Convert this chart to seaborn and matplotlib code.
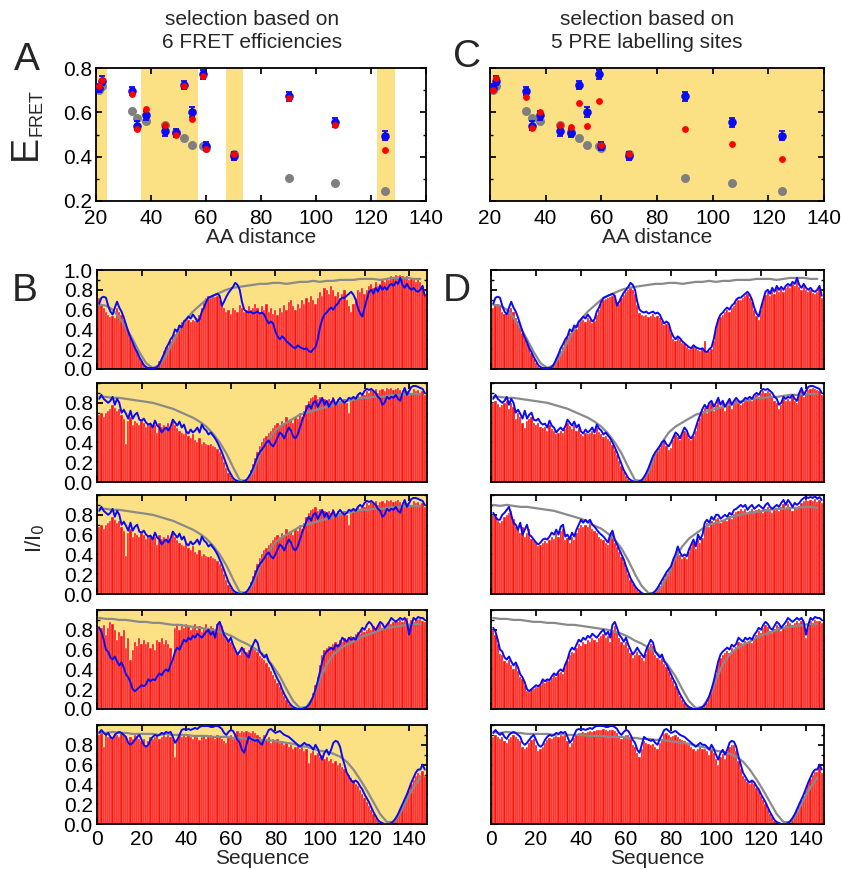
import numpy as np
import matplotlib
matplotlib.use("Agg")
import matplotlib.pyplot as plt
import seaborn as sns
from matplotlib.ticker import MultipleLocator, FixedLocator, FormatStrFormatter

# ---------------- FRET panels (A, C) ----------------
aa_dist = [21, 22, 33, 35, 38, 45, 49, 52, 55, 59, 60, 70, 90, 107, 125]
e_exp = [0.71, 0.742, 0.697, 0.54, 0.586, 0.514, 0.507, 0.723, 0.60, 0.772, 0.447, 0.402, 0.672, 0.555, 0.495]
e_err = [0.02, 0.02, 0.018, 0.02, 0.02, 0.02, 0.02, 0.018, 0.022, 0.02, 0.018, 0.018, 0.02, 0.02, 0.02]
e_rc = [0.70, 0.72, 0.608, 0.574, 0.56, 0.541, 0.51, 0.485, 0.453, 0.447, 0.44, 0.41, 0.306, 0.282, 0.244]
e_sel_fret = [0.717, 0.745, 0.682, 0.527, 0.614, 0.541, 0.499, 0.718, 0.571, 0.765, 0.436, 0.414, 0.664, 0.545, 0.429]
e_sel_pre = [0.70, 0.756, 0.671, 0.53, 0.60, 0.541, 0.535, 0.644, 0.538, 0.65, 0.453, 0.412, 0.526, 0.455, 0.389]
fret_used = [(20, 24.1), (36.4, 57.1), (67.3, 73.3), (122.3, 128.6)]

# ---------------- PRE profiles (B, D) ----------------
res = np.arange(1, 148)
gray_res = np.arange(1, 148, 3)

blue1 = [
    0.66, 0.72, 0.73, 0.72, 0.64, 0.58, 0.55, 0.62, 0.68, 0.62,
    0.58, 0.52, 0.45, 0.38, 0.32, 0.27, 0.21, 0.17, 0.12, 0.08,
    0.04, 0.02, 0.01, 0.01, 0.01, 0.01, 0.02, 0.05, 0.10, 0.15,
    0.21, 0.25, 0.30, 0.33, 0.40, 0.38, 0.44, 0.42, 0.48, 0.50,
    0.53, 0.51, 0.55, 0.52, 0.48, 0.50, 0.58, 0.62, 0.68, 0.72,
    0.73, 0.74, 0.75, 0.76, 0.74, 0.64, 0.68, 0.73, 0.77, 0.80,
    0.83, 0.87, 0.85, 0.80, 0.68, 0.60, 0.58, 0.57, 0.58, 0.56,
    0.57, 0.58, 0.56, 0.57, 0.55, 0.50, 0.46, 0.48, 0.46, 0.38,
    0.33, 0.30, 0.33, 0.31, 0.28, 0.26, 0.24, 0.22, 0.21, 0.24,
    0.22, 0.21, 0.20, 0.21, 0.18, 0.17, 0.20, 0.22, 0.30, 0.42,
    0.50, 0.55, 0.57, 0.60, 0.62, 0.60, 0.64, 0.66, 0.70, 0.72,
    0.72, 0.74, 0.76, 0.78, 0.75, 0.70, 0.62, 0.56, 0.53, 0.62,
    0.70, 0.78, 0.80, 0.76, 0.82, 0.78, 0.84, 0.80, 0.83, 0.80,
    0.84, 0.86, 0.84, 0.88, 0.86, 0.92, 0.85, 0.82, 0.86, 0.82,
    0.80, 0.82, 0.79, 0.78, 0.80, 0.84, 0.74]

blue2 = [
    0.84, 0.88, 0.84, 0.82, 0.80, 0.82, 0.86, 0.78, 0.84, 0.80,
    0.70, 0.73, 0.69, 0.64, 0.72, 0.64, 0.68, 0.70, 0.63, 0.62,
    0.64, 0.60, 0.58, 0.59, 0.55, 0.62, 0.57, 0.55, 0.50, 0.53,
    0.55, 0.52, 0.56, 0.63, 0.60, 0.57, 0.61, 0.55, 0.58, 0.51,
    0.49, 0.53, 0.50, 0.52, 0.55, 0.50, 0.58, 0.54, 0.52, 0.48,
    0.50, 0.47, 0.44, 0.40, 0.35, 0.30, 0.24, 0.18, 0.12, 0.08,
    0.04, 0.02, 0.01, 0.00, 0.00, 0.01, 0.02, 0.05, 0.09, 0.14,
    0.20, 0.26, 0.30, 0.33, 0.36, 0.40, 0.42, 0.38, 0.36, 0.40,
    0.45, 0.50, 0.48, 0.44, 0.50, 0.55, 0.52, 0.46, 0.44, 0.48,
    0.55, 0.62, 0.68, 0.74, 0.78, 0.74, 0.80, 0.82, 0.76, 0.80,
    0.85, 0.78, 0.82, 0.76, 0.80, 0.84, 0.78, 0.82, 0.85, 0.82,
    0.80, 0.82, 0.85, 0.84, 0.86, 0.84, 0.88, 0.90, 0.88, 0.92,
    0.94, 0.93, 0.94, 0.92, 0.90, 0.86, 0.84, 0.78, 0.80, 0.86,
    0.84, 0.86, 0.85, 0.88, 0.84, 0.82, 0.90, 0.95, 0.88, 0.92,
    0.96, 0.97, 0.97, 0.96, 0.95, 0.94, 0.90]

blue3 = [
    0.82, 0.78, 0.75, 0.75, 0.80, 0.82, 0.85, 0.88, 0.80, 0.72,
    0.70, 0.65, 0.72, 0.60, 0.65, 0.70, 0.60, 0.58, 0.55, 0.52,
    0.50, 0.52, 0.55, 0.56, 0.55, 0.58, 0.62, 0.60, 0.65, 0.60,
    0.68, 0.70, 0.58, 0.60, 0.55, 0.62, 0.58, 0.65, 0.70, 0.75,
    0.72, 0.75, 0.72, 0.75, 0.70, 0.68, 0.65, 0.62, 0.60, 0.58,
    0.55, 0.52, 0.60, 0.64, 0.55, 0.50, 0.45, 0.40, 0.35, 0.28,
    0.22, 0.16, 0.12, 0.08, 0.05, 0.03, 0.01, 0.00, 0.00, 0.00,
    0.00, 0.01, 0.03, 0.06, 0.10, 0.14, 0.18, 0.22, 0.25, 0.28,
    0.35, 0.40, 0.48, 0.42, 0.38, 0.40, 0.38, 0.45, 0.50, 0.55,
    0.48, 0.60, 0.55, 0.60, 0.72, 0.75, 0.72, 0.78, 0.75, 0.80,
    0.80, 0.76, 0.78, 0.80, 0.78, 0.82, 0.80, 0.85, 0.86, 0.88,
    0.90, 0.88, 0.90, 0.85, 0.88, 0.90, 0.86, 0.88, 0.90, 0.88,
    0.86, 0.90, 0.92, 0.88, 0.86, 0.88, 0.90, 0.88, 0.92, 0.95,
    0.90, 0.95, 0.92, 0.88, 0.92, 0.90, 0.92, 0.95, 0.97, 0.98,
    0.97, 0.98, 0.97, 0.99, 0.96, 0.98, 0.95]

blue4 = [
    0.82, 0.78, 0.70, 0.60, 0.58, 0.52, 0.50, 0.53, 0.48, 0.44,
    0.47, 0.42, 0.35, 0.32, 0.27, 0.20, 0.18, 0.20, 0.22, 0.24,
    0.23, 0.25, 0.30, 0.28, 0.30, 0.29, 0.33, 0.36, 0.34, 0.38,
    0.40, 0.38, 0.45, 0.50, 0.58, 0.62, 0.60, 0.65, 0.70, 0.68,
    0.72, 0.70, 0.74, 0.72, 0.76, 0.74, 0.72, 0.75, 0.78, 0.80,
    0.75, 0.78, 0.72, 0.85, 0.88, 0.82, 0.75, 0.72, 0.68, 0.72,
    0.65, 0.60, 0.55, 0.58, 0.62, 0.58, 0.55, 0.52, 0.60, 0.65,
    0.70, 0.67, 0.58, 0.55, 0.52, 0.55, 0.48, 0.45, 0.40, 0.35,
    0.30, 0.26, 0.20, 0.15, 0.11, 0.07, 0.04, 0.02, 0.01, 0.00,
    0.00, 0.00, 0.01, 0.02, 0.04, 0.08, 0.13, 0.20, 0.28, 0.38,
    0.48, 0.55, 0.58, 0.60, 0.62, 0.60, 0.65, 0.63, 0.66, 0.72,
    0.70, 0.68, 0.72, 0.70, 0.72, 0.70, 0.75, 0.78, 0.82, 0.80,
    0.85, 0.88, 0.86, 0.82, 0.80, 0.84, 0.88, 0.86, 0.82, 0.85,
    0.88, 0.92, 0.90, 0.88, 0.90, 0.92, 0.90, 0.92, 0.88, 0.75,
    0.85, 0.92, 0.90, 0.93, 0.92, 0.92, 0.90]

blue5 = [
    0.92, 0.95, 0.92, 0.90, 0.92, 0.88, 0.86, 0.90, 0.92, 0.93,
    0.92, 0.90, 0.88, 0.82, 0.80, 0.82, 0.85, 0.88, 0.90, 0.85,
    0.80, 0.78, 0.80, 0.85, 0.88, 0.90, 0.89, 0.90, 0.92, 0.91,
    0.93, 0.92, 0.93, 0.88, 0.82, 0.85, 0.90, 0.95, 0.96, 0.95,
    0.96, 0.95, 0.96, 0.97, 0.96, 0.98, 0.99, 0.99, 0.99, 0.99,
    0.98, 0.98, 0.99, 0.99, 0.98, 0.96, 0.92, 0.90, 0.93, 0.95,
    0.94, 0.90, 0.85, 0.82, 0.75, 0.72, 0.80, 0.88, 0.86, 0.85,
    0.84, 0.85, 0.82, 0.80, 0.86, 0.90, 0.95, 0.96, 0.94, 0.92,
    0.93, 0.94, 0.92, 0.90, 0.89, 0.88, 0.86, 0.84, 0.82, 0.80,
    0.78, 0.80, 0.82, 0.80, 0.80, 0.78, 0.75, 0.80, 0.76, 0.70,
    0.65, 0.72, 0.75, 0.70, 0.75, 0.82, 0.84, 0.83, 0.78, 0.68,
    0.60, 0.52, 0.48, 0.44, 0.42, 0.44, 0.42, 0.38, 0.35, 0.30,
    0.26, 0.22, 0.17, 0.12, 0.08, 0.04, 0.02, 0.01, 0.00, 0.00,
    0.00, 0.01, 0.03, 0.06, 0.10, 0.15, 0.20, 0.25, 0.30, 0.36,
    0.42, 0.47, 0.52, 0.55, 0.55, 0.60, 0.55]

gray1 = [
    0.65, 0.64, 0.60, 0.52, 0.42, 0.30, 0.17, 0.06, 0.01, 0.04,
    0.14, 0.27, 0.40, 0.50, 0.58, 0.64, 0.70, 0.74, 0.77, 0.80,
    0.82, 0.83, 0.84, 0.85, 0.86, 0.86, 0.87, 0.87, 0.86, 0.87,
    0.88, 0.88, 0.89, 0.88, 0.89, 0.89, 0.90, 0.90, 0.90, 0.91,
    0.91, 0.91, 0.90, 0.91, 0.92, 0.92, 0.92, 0.91, 0.91]
gray2 = [
    0.86, 0.86, 0.85, 0.85, 0.84, 0.83, 0.82, 0.81, 0.80, 0.78,
    0.76, 0.74, 0.71, 0.68, 0.65, 0.61, 0.56, 0.49, 0.40, 0.29,
    0.15, 0.02, 0.01, 0.10, 0.28, 0.40, 0.50, 0.56, 0.60, 0.64,
    0.68, 0.70, 0.72, 0.74, 0.76, 0.78, 0.80, 0.82, 0.83, 0.85,
    0.85, 0.86, 0.86, 0.87, 0.88, 0.88, 0.89, 0.89, 0.89]
gray3 = [
    0.90, 0.89, 0.90, 0.89, 0.88, 0.88, 0.87, 0.86, 0.85, 0.84,
    0.82, 0.80, 0.78, 0.76, 0.73, 0.69, 0.66, 0.61, 0.55, 0.46,
    0.34, 0.20, 0.08, 0.01, 0.01, 0.08, 0.21, 0.37, 0.48, 0.56,
    0.61, 0.66, 0.70, 0.72, 0.74, 0.77, 0.79, 0.81, 0.82, 0.83,
    0.84, 0.85, 0.86, 0.86, 0.87, 0.87, 0.88, 0.88, 0.87]
gray4 = [
    0.92, 0.91, 0.91, 0.90, 0.90, 0.89, 0.88, 0.88, 0.87, 0.87,
    0.86, 0.85, 0.85, 0.84, 0.83, 0.82, 0.81, 0.80, 0.78, 0.76,
    0.73, 0.69, 0.66, 0.62, 0.58, 0.52, 0.43, 0.33, 0.20, 0.08,
    0.01, 0.02, 0.12, 0.30, 0.45, 0.55, 0.61, 0.65, 0.68, 0.72,
    0.75, 0.77, 0.80, 0.82, 0.83, 0.84, 0.85, 0.86, 0.86]
gray5 = [
    0.93, 0.92, 0.93, 0.92, 0.92, 0.91, 0.91, 0.91, 0.91, 0.90,
    0.91, 0.90, 0.90, 0.90, 0.89, 0.89, 0.89, 0.88, 0.88, 0.88,
    0.87, 0.87, 0.86, 0.86, 0.85, 0.85, 0.84, 0.83, 0.82, 0.81,
    0.79, 0.78, 0.76, 0.74, 0.73, 0.71, 0.68, 0.63, 0.55, 0.45,
    0.34, 0.22, 0.10, 0.02, 0.02, 0.11, 0.25, 0.37, 0.47]

# ensemble selected on FRET (column B)
fret_bars1 = [
    0.72, 0.65, 0.62, 0.58, 0.55, 0.53, 0.54, 0.52, 0.62, 0.58,
    0.55, 0.50, 0.42, 0.38, 0.32, 0.30, 0.25, 0.18, 0.12, 0.08,
    0.04, 0.02, 0.01, 0.01, 0.01, 0.02, 0.04, 0.08, 0.12, 0.18,
    0.22, 0.22, 0.28, 0.32, 0.35, 0.40, 0.44, 0.47, 0.50, 0.48,
    0.50, 0.47, 0.50, 0.48, 0.52, 0.55, 0.62, 0.68, 0.72, 0.74,
    0.72, 0.75, 0.73, 0.74, 0.70, 0.66, 0.62, 0.58, 0.60, 0.56,
    0.62, 0.60, 0.58, 0.65, 0.62, 0.58, 0.60, 0.64, 0.60, 0.62,
    0.66, 0.62, 0.58, 0.64, 0.60, 0.66, 0.58, 0.62, 0.56, 0.60,
    0.55, 0.62, 0.58, 0.65, 0.60, 0.68, 0.70, 0.64, 0.60, 0.66,
    0.62, 0.70, 0.66, 0.72, 0.68, 0.74, 0.70, 0.66, 0.72, 0.78,
    0.74, 0.82, 0.80, 0.76, 0.84, 0.80, 0.74, 0.78, 0.72, 0.76,
    0.80, 0.70, 0.64, 0.58, 0.66, 0.72, 0.80, 0.78, 0.82, 0.76,
    0.80, 0.84, 0.86, 0.82, 0.88, 0.84, 0.86, 0.90, 0.88, 0.92,
    0.90, 0.94, 0.92, 0.95, 0.94, 0.95, 0.94, 0.92, 0.94, 0.90,
    0.92, 0.90, 0.88, 0.92, 0.88, 0.84, 0.76]
fret_bars2 = [
    0.68, 0.70, 0.66, 0.70, 0.72, 0.74, 0.78, 0.75, 0.72, 0.74,
    0.68, 0.64, 0.38, 0.62, 0.66, 0.58, 0.62, 0.60, 0.58, 0.62,
    0.60, 0.56, 0.60, 0.58, 0.55, 0.58, 0.50, 0.60, 0.56, 0.58,
    0.54, 0.60, 0.56, 0.62, 0.58, 0.55, 0.52, 0.50, 0.48, 0.52,
    0.46, 0.44, 0.48, 0.42, 0.40, 0.44, 0.38, 0.40, 0.38, 0.37,
    0.38, 0.36, 0.35, 0.33, 0.30, 0.26, 0.20, 0.14, 0.09, 0.05,
    0.03, 0.01, 0.00, 0.00, 0.00, 0.01, 0.03, 0.07, 0.12, 0.18,
    0.24, 0.30, 0.36, 0.40, 0.44, 0.46, 0.50, 0.52, 0.55, 0.58,
    0.60, 0.58, 0.62, 0.60, 0.66, 0.62, 0.64, 0.60, 0.66, 0.64,
    0.70, 0.66, 0.72, 0.78, 0.82, 0.85, 0.86, 0.88, 0.84, 0.86,
    0.82, 0.84, 0.80, 0.84, 0.82, 0.86, 0.80, 0.84, 0.82, 0.80,
    0.84, 0.80, 0.70, 0.82, 0.86, 0.84, 0.88, 0.86, 0.90, 0.88,
    0.92, 0.90, 0.93, 0.92, 0.94, 0.90, 0.93, 0.94, 0.92, 0.95,
    0.94, 0.95, 0.93, 0.94, 0.95, 0.93, 0.90, 0.94, 0.92, 0.88,
    0.90, 0.94, 0.92, 0.93, 0.90, 0.92, 0.88]
fret_bars4 = [
    0.84, 0.82, 0.85, 0.75, 0.82, 0.88, 0.86, 0.80, 0.70, 0.78,
    0.74, 0.80, 0.62, 0.72, 0.50, 0.60, 0.68, 0.64, 0.72, 0.66,
    0.70, 0.66, 0.68, 0.62, 0.66, 0.60, 0.70, 0.68, 0.72, 0.66,
    0.70, 0.66, 0.62, 0.52, 0.82, 0.85, 0.80, 0.84, 0.82, 0.86,
    0.84, 0.80, 0.82, 0.86, 0.80, 0.84, 0.78, 0.82, 0.86, 0.80,
    0.84, 0.82, 0.80, 0.86, 0.88, 0.84, 0.76, 0.72, 0.70, 0.68,
    0.64, 0.60, 0.58, 0.55, 0.60, 0.62, 0.58, 0.60, 0.64, 0.62,
    0.60, 0.58, 0.54, 0.52, 0.50, 0.46, 0.42, 0.38, 0.34, 0.30,
    0.26, 0.22, 0.18, 0.13, 0.09, 0.05, 0.03, 0.01, 0.00, 0.00,
    0.00, 0.00, 0.01, 0.03, 0.06, 0.10, 0.16, 0.24, 0.32, 0.44,
    0.55, 0.60, 0.62, 0.64, 0.62, 0.66, 0.68, 0.66, 0.70, 0.68,
    0.72, 0.70, 0.72, 0.74, 0.72, 0.76, 0.78, 0.76, 0.80, 0.78,
    0.80, 0.82, 0.80, 0.84, 0.82, 0.84, 0.86, 0.82, 0.84, 0.86,
    0.88, 0.86, 0.88, 0.90, 0.88, 0.90, 0.88, 0.90, 0.92, 0.86,
    0.90, 0.88, 0.92, 0.90, 0.91, 0.89, 0.88]
fret_bars5 = [
    0.90, 0.92, 0.78, 0.92, 0.88, 0.90, 0.86, 0.92, 0.90, 0.88,
    0.92, 0.90, 0.88, 0.82, 0.88, 0.86, 0.90, 0.88, 0.86, 0.84,
    0.86, 0.80, 0.84, 0.88, 0.86, 0.88, 0.90, 0.86, 0.88, 0.90,
    0.88, 0.90, 0.88, 0.86, 0.68, 0.86, 0.90, 0.88, 0.90, 0.88,
    0.90, 0.88, 0.86, 0.90, 0.88, 0.85, 0.88, 0.90, 0.86, 0.88,
    0.90, 0.88, 0.86, 0.90, 0.88, 0.86, 0.84, 0.82, 0.88, 0.90,
    0.86, 0.92, 0.94, 0.92, 0.94, 0.93, 0.94, 0.93, 0.92, 0.94,
    0.92, 0.90, 0.88, 0.86, 0.90, 0.86, 0.88, 0.82, 0.86, 0.84,
    0.86, 0.82, 0.84, 0.80, 0.82, 0.78, 0.80, 0.76, 0.78, 0.80,
    0.76, 0.78, 0.74, 0.76, 0.62, 0.72, 0.74, 0.70, 0.72, 0.68,
    0.70, 0.66, 0.68, 0.64, 0.66, 0.62, 0.64, 0.60, 0.62, 0.58,
    0.56, 0.52, 0.50, 0.46, 0.44, 0.40, 0.38, 0.34, 0.30, 0.26,
    0.22, 0.18, 0.14, 0.10, 0.06, 0.03, 0.01, 0.00, 0.00, 0.00,
    0.00, 0.01, 0.03, 0.06, 0.10, 0.14, 0.18, 0.24, 0.30, 0.34,
    0.40, 0.44, 0.48, 0.52, 0.50, 0.54, 0.48]

# ensemble selected on PRE (column D)
pre_bars1 = [
    0.62, 0.65, 0.66, 0.64, 0.58, 0.56, 0.55, 0.60, 0.62, 0.58,
    0.52, 0.48, 0.42, 0.36, 0.30, 0.26, 0.22, 0.16, 0.10, 0.06,
    0.03, 0.01, 0.00, 0.00, 0.00, 0.01, 0.03, 0.06, 0.10, 0.15,
    0.18, 0.22, 0.28, 0.32, 0.36, 0.35, 0.42, 0.40, 0.45, 0.48,
    0.50, 0.47, 0.52, 0.50, 0.46, 0.48, 0.55, 0.60, 0.66, 0.70,
    0.71, 0.72, 0.73, 0.74, 0.72, 0.68, 0.66, 0.72, 0.75, 0.78,
    0.80, 0.82, 0.80, 0.76, 0.65, 0.57, 0.55, 0.54, 0.55, 0.53,
    0.54, 0.56, 0.53, 0.54, 0.52, 0.48, 0.44, 0.45, 0.43, 0.36,
    0.30, 0.28, 0.31, 0.29, 0.26, 0.25, 0.22, 0.20, 0.20, 0.22,
    0.21, 0.19, 0.18, 0.20, 0.28, 0.16, 0.18, 0.20, 0.28, 0.40,
    0.48, 0.53, 0.55, 0.58, 0.60, 0.58, 0.62, 0.64, 0.68, 0.70,
    0.70, 0.72, 0.74, 0.76, 0.72, 0.68, 0.60, 0.54, 0.50, 0.60,
    0.68, 0.75, 0.78, 0.74, 0.80, 0.76, 0.82, 0.78, 0.81, 0.78,
    0.82, 0.84, 0.82, 0.86, 0.84, 0.90, 0.83, 0.80, 0.84, 0.80,
    0.78, 0.80, 0.77, 0.76, 0.78, 0.82, 0.72]
pre_bars2 = [
    0.80, 0.82, 0.79, 0.76, 0.78, 0.80, 0.82, 0.74, 0.80, 0.76,
    0.64, 0.70, 0.66, 0.60, 0.55, 0.62, 0.64, 0.66, 0.60, 0.58,
    0.60, 0.56, 0.55, 0.56, 0.52, 0.58, 0.54, 0.52, 0.48, 0.50,
    0.52, 0.50, 0.54, 0.60, 0.57, 0.54, 0.58, 0.52, 0.55, 0.48,
    0.46, 0.50, 0.48, 0.50, 0.52, 0.48, 0.55, 0.51, 0.48, 0.45,
    0.46, 0.43, 0.41, 0.37, 0.32, 0.27, 0.21, 0.16, 0.10, 0.06,
    0.03, 0.01, 0.00, 0.00, 0.00, 0.01, 0.02, 0.04, 0.08, 0.12,
    0.18, 0.24, 0.28, 0.31, 0.34, 0.38, 0.40, 0.36, 0.32, 0.34,
    0.42, 0.47, 0.45, 0.42, 0.48, 0.52, 0.50, 0.44, 0.42, 0.46,
    0.52, 0.60, 0.65, 0.72, 0.75, 0.70, 0.78, 0.80, 0.72, 0.78,
    0.82, 0.75, 0.80, 0.72, 0.78, 0.82, 0.74, 0.80, 0.83, 0.80,
    0.78, 0.80, 0.83, 0.82, 0.84, 0.82, 0.86, 0.88, 0.86, 0.90,
    0.92, 0.90, 0.92, 0.90, 0.86, 0.82, 0.80, 0.74, 0.78, 0.84,
    0.82, 0.84, 0.82, 0.86, 0.82, 0.80, 0.88, 0.92, 0.86, 0.90,
    0.93, 0.94, 0.95, 0.94, 0.93, 0.92, 0.88]
pre_bars3 = [
    0.80, 0.78, 0.74, 0.72, 0.74, 0.78, 0.80, 0.82, 0.84, 0.76,
    0.68, 0.66, 0.62, 0.68, 0.58, 0.62, 0.66, 0.56, 0.54, 0.52,
    0.48, 0.50, 0.52, 0.54, 0.52, 0.55, 0.58, 0.56, 0.62, 0.58,
    0.64, 0.66, 0.55, 0.57, 0.52, 0.58, 0.55, 0.62, 0.67, 0.70,
    0.68, 0.70, 0.68, 0.71, 0.66, 0.64, 0.62, 0.58, 0.56, 0.55,
    0.52, 0.49, 0.58, 0.62, 0.52, 0.47, 0.42, 0.37, 0.32, 0.26,
    0.20, 0.14, 0.10, 0.07, 0.04, 0.02, 0.01, 0.00, 0.00, 0.00,
    0.00, 0.01, 0.02, 0.05, 0.08, 0.12, 0.16, 0.20, 0.23, 0.26,
    0.32, 0.37, 0.44, 0.39, 0.35, 0.37, 0.35, 0.42, 0.47, 0.52,
    0.45, 0.56, 0.52, 0.57, 0.68, 0.72, 0.68, 0.74, 0.72, 0.76,
    0.77, 0.72, 0.75, 0.76, 0.74, 0.79, 0.76, 0.81, 0.83, 0.84,
    0.86, 0.84, 0.86, 0.81, 0.84, 0.86, 0.82, 0.85, 0.86, 0.84,
    0.82, 0.86, 0.88, 0.84, 0.82, 0.85, 0.86, 0.84, 0.88, 0.91,
    0.86, 0.91, 0.88, 0.84, 0.88, 0.86, 0.89, 0.92, 0.94, 0.95,
    0.94, 0.95, 0.94, 0.96, 0.93, 0.95, 0.92]
pre_bars4 = [
    0.80, 0.75, 0.66, 0.56, 0.55, 0.48, 0.46, 0.50, 0.44, 0.40,
    0.44, 0.38, 0.32, 0.30, 0.24, 0.18, 0.17, 0.20, 0.20, 0.22,
    0.22, 0.24, 0.28, 0.26, 0.29, 0.28, 0.31, 0.34, 0.32, 0.36,
    0.37, 0.35, 0.42, 0.48, 0.55, 0.58, 0.57, 0.62, 0.66, 0.64,
    0.68, 0.66, 0.70, 0.68, 0.72, 0.70, 0.68, 0.72, 0.74, 0.76,
    0.72, 0.74, 0.68, 0.80, 0.84, 0.78, 0.72, 0.68, 0.65, 0.68,
    0.62, 0.57, 0.52, 0.55, 0.58, 0.55, 0.52, 0.48, 0.56, 0.62,
    0.66, 0.64, 0.55, 0.52, 0.49, 0.52, 0.45, 0.42, 0.37, 0.32,
    0.28, 0.23, 0.18, 0.13, 0.09, 0.06, 0.03, 0.01, 0.00, 0.00,
    0.00, 0.00, 0.00, 0.01, 0.03, 0.06, 0.11, 0.18, 0.26, 0.35,
    0.45, 0.52, 0.55, 0.57, 0.59, 0.57, 0.62, 0.60, 0.63, 0.68,
    0.67, 0.65, 0.69, 0.67, 0.69, 0.67, 0.72, 0.75, 0.79, 0.77,
    0.82, 0.85, 0.83, 0.79, 0.77, 0.81, 0.85, 0.83, 0.79, 0.82,
    0.85, 0.89, 0.87, 0.85, 0.87, 0.89, 0.87, 0.89, 0.85, 0.72,
    0.82, 0.89, 0.87, 0.90, 0.89, 0.89, 0.87]
pre_bars5 = [
    0.88, 0.90, 0.88, 0.86, 0.88, 0.84, 0.82, 0.86, 0.88, 0.90,
    0.88, 0.86, 0.84, 0.78, 0.76, 0.78, 0.82, 0.85, 0.86, 0.80,
    0.74, 0.76, 0.78, 0.82, 0.85, 0.87, 0.86, 0.88, 0.89, 0.88,
    0.90, 0.89, 0.90, 0.84, 0.78, 0.82, 0.87, 0.91, 0.92, 0.92,
    0.93, 0.92, 0.93, 0.94, 0.93, 0.94, 0.95, 0.95, 0.95, 0.96,
    0.95, 0.94, 0.95, 0.95, 0.94, 0.92, 0.88, 0.86, 0.88, 0.90,
    0.90, 0.86, 0.80, 0.78, 0.72, 0.68, 0.76, 0.84, 0.82, 0.81,
    0.80, 0.81, 0.78, 0.76, 0.82, 0.86, 0.91, 0.92, 0.90, 0.88,
    0.89, 0.90, 0.88, 0.86, 0.85, 0.84, 0.82, 0.80, 0.78, 0.76,
    0.74, 0.76, 0.78, 0.76, 0.76, 0.74, 0.70, 0.76, 0.72, 0.66,
    0.60, 0.68, 0.71, 0.66, 0.72, 0.78, 0.80, 0.80, 0.74, 0.64,
    0.56, 0.48, 0.45, 0.42, 0.40, 0.42, 0.40, 0.36, 0.33, 0.28,
    0.24, 0.20, 0.15, 0.10, 0.07, 0.03, 0.01, 0.00, 0.00, 0.00,
    0.00, 0.01, 0.02, 0.05, 0.09, 0.13, 0.18, 0.23, 0.28, 0.34,
    0.40, 0.45, 0.50, 0.53, 0.53, 0.58, 0.52]

# column B shows the same profile in its 2nd and 3rd row
fret_rows = [(fret_bars1, blue1, gray1), (fret_bars2, blue2, gray2),
             (fret_bars2, blue2, gray2), (fret_bars4, blue4, gray4),
             (fret_bars5, blue5, gray5)]
pre_rows = [(pre_bars1, blue1, gray1), (pre_bars2, blue2, gray2),
            (pre_bars3, blue3, gray3), (pre_bars4, blue4, gray4),
            (pre_bars5, blue5, gray5)]

YELLOW = "#fce184"
RED = "#ff120a"
BLUE = "#0a0af5"
GRAY = "#8a8a8a"

sns.set_theme(style="ticks")
plt.rcParams["font.family"] = ["Liberation Sans", "DejaVu Sans"]
plt.rcParams.update({
    "axes.edgecolor": "black", "axes.linewidth": 1.3,
    "xtick.direction": "in", "ytick.direction": "in",
    "xtick.top": True, "ytick.right": True,
    "xtick.major.size": 4, "ytick.major.size": 4,
    "xtick.minor.size": 2.5, "ytick.minor.size": 2.5,
    "xtick.major.pad": 4, "ytick.major.pad": 3,
    "xtick.labelsize": 15, "ytick.labelsize": 15,
    "axes.labelsize": 15, "xtick.color": "black", "ytick.color": "black",
})

W, H = 841, 869
fig = plt.figure(figsize=(W / 100, H / 100), dpi=100)


def px_axes(left, top, right, bottom):
    return fig.add_axes([left / W, 1 - bottom / H, (right - left) / W, (bottom - top) / H])


def fret_panel(ax, sel, show_ylabels):
    sns.scatterplot(x=aa_dist, y=e_rc, color="#7f7f7f", s=42, linewidth=0, ax=ax, zorder=2)
    ax.errorbar(aa_dist, e_exp, yerr=e_err, fmt="none", ecolor=BLUE, elinewidth=1.3,
                capsize=2.2, capthick=1.3, zorder=3)
    sns.scatterplot(x=aa_dist, y=e_exp, color=BLUE, s=38, linewidth=0, ax=ax, zorder=3)
    sns.scatterplot(x=aa_dist, y=sel, color="#ff0000", s=24, linewidth=0, ax=ax, zorder=4)
    ax.set_xlim(20, 140)
    ax.set_ylim(0.2, 0.8)
    ax.xaxis.set_major_locator(MultipleLocator(20))
    ax.yaxis.set_major_locator(FixedLocator([0.2, 0.4, 0.6, 0.8]))
    ax.yaxis.set_minor_locator(MultipleLocator(0.1))
    ax.yaxis.set_major_formatter(FormatStrFormatter("%.1f"))
    ax.tick_params(which="both", direction="in", top=True, right=True)
    ax.tick_params(axis="x", pad=6)
    if not show_ylabels:
        ax.set_yticklabels([])
    ax.set_xlabel("AA distance", labelpad=0)
    ax.set_ylabel("")


def pre_panel(ax, bars, blue, gray, shaded, first, last, show_ylabels):
    if shaded:
        ax.set_facecolor(YELLOW)
    sns.barplot(x=res, y=bars, native_scale=True, width=1.0, color=RED, saturation=1,
                edgecolor="white", linewidth=0.22, errorbar=None, ax=ax, zorder=1)
    ax.plot(gray_res, gray, color=GRAY, linewidth=1.6, zorder=2)
    ax.plot(res, blue, color=BLUE, linewidth=1.4, zorder=3)
    ax.set_xlim(0, 148)
    ax.set_ylim(0, 1.0)
    ax.xaxis.set_major_locator(MultipleLocator(20))
    yt = [0.0, 0.2, 0.4, 0.6, 0.8, 1.0] if first else [0.0, 0.2, 0.4, 0.6, 0.8]
    ax.yaxis.set_major_locator(FixedLocator(yt))
    ax.yaxis.set_minor_locator(MultipleLocator(0.1))
    ax.yaxis.set_major_formatter(FormatStrFormatter("%.1f"))
    ax.tick_params(which="both", direction="in", top=True, right=True)
    if not show_ylabels:
        ax.set_yticklabels([])
    if last:
        ax.set_xlabel("Sequence", labelpad=0)
    else:
        ax.set_xticklabels([])
        ax.set_xlabel("")
    ax.set_ylabel("")


# top row
ax_a = px_axes(96, 68, 426, 201)
for lo, hi in fret_used:
    ax_a.axvspan(lo, hi, color=YELLOW, lw=0, zorder=0)
fret_panel(ax_a, e_sel_fret, True)

ax_c = px_axes(490, 68, 824, 201)
ax_c.set_facecolor(YELLOW)
fret_panel(ax_c, e_sel_pre, False)

# profile rows
tops = [270, 383, 495, 610, 725]
for i, top in enumerate(tops):
    axb = px_axes(97, top, 427, top + 99)
    bars, blue, gray = fret_rows[i]
    pre_panel(axb, bars, blue, gray, True, i == 0, i == 4, True)
    axd = px_axes(491, top, 824, top + 99)
    bars, blue, gray = pre_rows[i]
    pre_panel(axd, bars, blue, gray, False, i == 0, i == 4, False)


def ftext(x, y, s, **kw):
    fig.text(x / W, 1 - y / H, s, ha="center", va="center", **kw)


ftext(252, 31, "selection based on\n6 FRET efficiencies", fontsize=15, linespacing=1.3)
ftext(647, 31, "selection based on\n5 PRE labelling sites", fontsize=15, linespacing=1.3)
ftext(27, 60, "A", fontsize=28)
ftext(467, 57, "C", fontsize=28)
ftext(25, 291, "B", fontsize=28)
ftext(457, 291, "D", fontsize=28)
ftext(26, 148, "E", fontsize=27, rotation=90)
ftext(37, 113, "FRET", fontsize=13, rotation=90)
ftext(35, 538, "I/I$_0$", fontsize=16, rotation=90)

fig.savefig("out.png", dpi=100)
